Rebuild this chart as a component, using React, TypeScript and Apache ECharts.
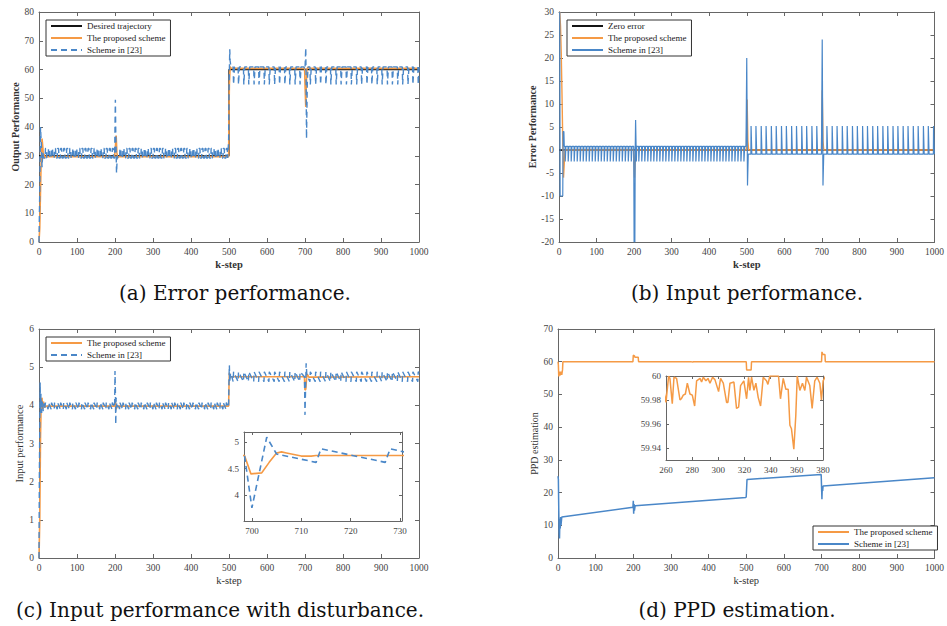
import React, { useEffect, useRef } from 'react';
import * as echarts from 'echarts';

type Pt = [number, number];

// ---------------- shared oscillation instants (k-step) ----------------
const osc1K = [16, 24, 32, 40, 48, 56, 64, 72, 80, 88, 96, 104, 112, 120, 128, 136, 144, 152, 160, 168, 176, 184, 192,
  212, 220, 228, 236, 244, 252, 260, 268, 276, 284, 292, 300, 308, 316, 324, 332, 340, 348, 356, 364, 372, 380, 388,
  396, 404, 412, 420, 428, 436, 444, 452, 460, 468, 476, 484, 492];
const osc2K = [511, 524, 538, 551, 565, 578, 592, 605, 619, 632, 646, 659, 673, 686, 713, 727, 740, 754, 767, 781,
  794, 808, 821, 835, 848, 862, 875, 889, 902, 916, 929, 943, 956, 970, 983, 997];

// ---------------- tick labels ----------------
const kTicks = [0, 100, 200, 300, 400, 500, 600, 700, 800, 900, 1000];
const aYTicks = [0, 10, 20, 30, 40, 50, 60, 70, 80];
const bYTicks = [-20, -15, -10, -5, 0, 5, 10, 15, 20, 25, 30];
const cYTicks = [0, 1, 2, 3, 4, 5, 6];
const dYTicks = [0, 10, 20, 30, 40, 50, 60, 70];
const ciXTicks = [700, 710, 720, 730];
const ciXRange = [698.4, 730.4];
const ciYTicks = [4, 4.5, 5];
const ciYRange = [3.5, 5.2];
const diXTicks = [260, 280, 300, 320, 340, 360, 380];
const diYTicks = [59.94, 59.96, 59.98, 60];
const diYRange = [59.93, 60];

// ---------------- (a) output performance ----------------
const aDesired: Pt[] = [[0, 30], [500, 30], [500, 60], [1000, 60]];
const aProposed: Pt[] = [[0, 0], [2, 5], [4, 18], [6, 30], [8, 36], [10, 33], [12, 29], [14, 30.5], [16, 29.5],
  [20, 29.7], [199, 29.7], [201, 33], [203, 37], [205, 31], [207, 29.2], [210, 29.7], [499, 29.7], [500, 45],
  [501, 55], [503, 61], [505, 60.5], [510, 60.4], [699, 60.4], [700, 55], [702, 47], [703, 53], [705, 60.2],
  [708, 60.8], [712, 60.4], [1000, 60.4]];
const aSchemeTransient: Pt[] = [[0, 0], [2, 18], [4, 40], [6, 34], [8, 26], [10, 31], [12, 29.5], [14, 29.2],
  [199, 29.2], [200, 40], [201, 49.5], [202, 38], [204, 24], [206, 30], [208, 29.2],
  [497, 29.2], [499, 35], [500, 52], [502, 67], [503, 63], [505, 60.9],
  [697, 60.9], [700, 60], [702, 67.5], [703, 55], [704, 36], [706, 55], [708, 60.9], [1000, 60.9]];
const aSchemeOsc1 = [29.2, 32.5];
const aSchemeOsc2 = [60.9, 54.8];

// ---------------- (b) error performance ----------------
const bZero: Pt[] = [[0, 0], [1000, 0]];
const bProposed: Pt[] = [[0, 30], [2, 30], [4, 27], [6, 21], [8, 12], [10, 2], [12, -6], [14, -3], [16, 0],
  [199, 0], [201, -6], [203, -2], [205, 0], [499, 0], [501, 11], [503, 2], [505, 0],
  [699, 0], [701, 13], [703, 2], [705, 0], [1000, 0]];
const bSchemeTransient: Pt[] = [[0, 30], [2, 30], [3, -10], [10, -10], [11, 4], [13, 4], [14, 0.8],
  [199, 0.8], [200, -20], [202, -20], [203, 0], [204, 6.5], [205, 6.5], [206, -2.5], [207, 0.8],
  [498, 0.8], [500, 20], [501, 20], [502, -7.7], [503, -7.7], [504, -0.9],
  [699, -0.9], [701, 24], [702, 24], [703, -7.7], [704, -7.7], [705, -0.9], [1000, -0.9]];
const bSchemeOsc1 = [0.8, -2.5];
const bSchemeOsc2 = [-0.9, 5.2];

// ---------------- (c) input performance with disturbance ----------------
const cProposed: Pt[] = [[0, 0], [2, 1], [4, 3.2], [6, 4.15], [8, 4.2], [10, 3.9], [12, 4.1], [14, 3.95],
  [18, 3.98], [199, 3.98], [201, 4.12], [203, 3.9], [206, 3.98], [499, 3.98], [500, 4.5], [501, 4.85],
  [503, 4.72], [505, 4.75], [698.5, 4.75], [699.8, 4.4], [702, 4.42], [703.5, 4.62], [705, 4.8], [706, 4.82],
  [707, 4.8], [710, 4.74], [712, 4.74], [713, 4.75], [1000, 4.75]];
const cSchemeTransient: Pt[] = [[0, 0], [1, 2.2], [3, 4.6], [4, 3.8], [5, 4.3], [7, 3.8], [9, 4.1], [11, 3.85],
  [13, 4.05], [15, 3.9], [199, 3.95], [200, 4.9], [201, 4.4], [202, 3.5], [203, 4.2], [205, 3.95], [207, 4.05],
  [499, 3.95], [500, 4.7], [501, 5.05], [502, 4.6], [504, 4.85], [506, 4.8],
  [698.5, 4.75], [700, 3.75], [701, 4.2], [703, 5.1], [705, 4.78], [710, 4.68], [1000, 4.85]];
const cSchemeOsc1 = [3.9, 4.07];
const cSchemeOsc2 = [4.62, 4.88];

// ---------------- (d) PPD estimation ----------------
const dProposed: Pt[] = [[0, 60], [1, 59], [2, 55.5], [4, 57], [6, 55.8], [8, 57], [10, 56], [12, 57.5], [13, 60],
  [199, 60], [200, 62], [203, 61.8], [204, 61.4], [213, 61.4], [214, 60], [258, 59.99], [382, 60],
  [500, 60], [501, 57.5], [513, 57.5], [514, 60], [700, 60], [701, 63], [702, 62.6], [704, 62.2], [709, 62.2],
  [710, 60], [1000, 60]];
const dProposedZoom: Pt[] = [[260, 59.978], [262, 60], [263, 59.998], [264.8, 59.977], [266.1, 59.999],
  [268.1, 59.998], [270.7, 59.98], [271.7, 59.981], [273.2, 59.984], [274.8, 59.985], [276.3, 59.994],
  [278.3, 59.985], [280.1, 59.984], [281.9, 59.975], [283.4, 59.996], [286, 59.998], [287.2, 59.995],
  [288.5, 59.999], [290.5, 59.996], [292.1, 59.998], [293.6, 59.994], [295.6, 59.999], [297.4, 59.997],
  [300.2, 59.987], [301.7, 59.998], [303.8, 59.994], [306.3, 59.978], [307.3, 59.978], [308.9, 59.994],
  [311.9, 59.995], [313.9, 59.973], [315.5, 59.974], [317, 59.992], [319.5, 59.996], [321.6, 59.981],
  [323.1, 59.999], [324.1, 59.988], [325.4, 59.999], [327.2, 59.988], [328.7, 59.994], [330.5, 59.982],
  [332.3, 59.975], [334.3, 59.999], [336.8, 59.996], [337.9, 59.993], [339.4, 60], [346, 60], [347.5, 59.981],
  [349.6, 59.998], [351.6, 59.989], [353.4, 59.989], [354.7, 59.959], [355.9, 59.956], [357.7, 59.939],
  [359.2, 59.967], [360.3, 60], [362.3, 59.988], [364.3, 59.994], [366.1, 59.988], [367.4, 59.999],
  [369.9, 59.992], [371.7, 59.973], [373.7, 59.996], [375.5, 59.999], [377.6, 59.994], [378.8, 59.98],
  [380.1, 59.996]];
const dScheme: Pt[] = [[0, 25], [1, 24], [2, 15], [3, 8], [4, 6], [5, 12], [6, 9], [7, 12.5], [8, 10], [10, 12.5],
  [199, 15.5], [200, 17.5], [201, 13.5], [202, 16.5], [203, 14.5], [205, 16], [499, 18.5], [500, 18.8],
  [502, 24], [699, 25.5], [700, 25.5], [701, 18], [702, 22], [703, 20.5], [704, 22], [1000, 24.5]];

// ---------------- texts ----------------
const aNames = ['Desired trajectory', 'The proposed scheme', 'Scheme in [23]'];
const bNames = ['Zero error', 'The proposed scheme', 'Scheme in [23]'];
const cNames = ['The proposed scheme', 'Scheme in [23]'];
const dNames = ['The proposed scheme', 'Scheme in [23]'];
const captions = ['(a) Error performance.', '(b) Input performance.', '(c) Input performance with disturbance.', '(d) PPD estimation.'];

// ---------------- style ----------------
const FONT = '"Liberation Serif", "Times New Roman", Times, serif';
const CAPTION_FONT = '"DejaVu Serif", "Liberation Serif", serif';
const AXC = '#666666';
const LBLC = '#444444';
const BLUE = '#4a87c8';
const ORANGE = '#f59a45';
const BLACK = '#141414';

function pulses(ks: number[], lv: number[], rise: number, hold: number): Pt[] {
  const out: Pt[] = [];
  ks.forEach((k) => {
    out.push([k, lv[0]], [k + rise, lv[1]], [k + rise + hold, lv[1]], [k + 2 * rise + hold, lv[0]]);
  });
  return out;
}
function saw(ks: number[], lv: number[]): Pt[] {
  const out: Pt[] = [];
  ks.forEach((k) => out.push([k, lv[0]], [k + 1, lv[1]]));
  return out;
}
function merge(...parts: Pt[][]): Pt[] {
  return ([] as Pt[]).concat(...parts).sort((p, q) => p[0] - q[0]);
}
const tidy = (v: number) => +v.toFixed(6);

interface AxCfg {
  min: number; max: number; interval?: number; fixed?: number; fs: number; tick: number;
  fmt?: (v: number) => string; hideMin?: boolean; hideMax?: boolean;
  name?: string; nameGap?: number; nameBold?: boolean; nameSize?: number; z?: number;
}

function axisSet(kind: 'x' | 'y', grid: number, c: AxCfg): any[] {
  const mk = () => {
    const o: any = {
      type: 'value', gridIndex: grid, min: c.min, max: c.max,
      splitLine: { show: false },
      axisLine: { show: true, onZero: false, lineStyle: { color: AXC, width: 1 } },
      axisTick: { show: true, inside: true, length: c.tick, lineStyle: { color: AXC, width: 1 } },
      z: c.z ?? 0,
    };
    if (c.interval != null) o.interval = c.interval;
    if (c.fixed != null) { o.minInterval = c.fixed; o.maxInterval = c.fixed; }
    return o;
  };
  const main = mk();
  main.position = kind === 'x' ? 'bottom' : 'left';
  main.axisLabel = { show: true, color: LBLC, fontSize: c.fs, fontFamily: FONT, margin: 5, formatter: c.fmt ?? ((v: number) => String(v)) };
  if (c.hideMin) main.axisLabel.showMinLabel = false;
  if (c.hideMax) main.axisLabel.showMaxLabel = false;
  if (c.name) {
    main.name = c.name;
    main.nameLocation = 'middle';
    main.nameGap = c.nameGap;
    main.nameTextStyle = { fontFamily: FONT, fontSize: c.nameSize, fontWeight: c.nameBold ? 'bold' : 'normal', color: '#333' };
  }
  const mirror = mk();
  mirror.position = kind === 'x' ? 'top' : 'right';
  mirror.axisLabel = { show: false };
  return [main, mirror];
}

function fromTicks(t: number[]) {
  return { min: t[0], max: t[t.length - 1], interval: tidy(t[1] - t[0]) };
}

function line(name: string, data: Pt[], color: string, width: number, grid: number, dashed: boolean, z = 2): any {
  return {
    type: 'line', name, data, xAxisIndex: 2 * grid, yAxisIndex: 2 * grid,
    symbol: 'none', showSymbol: false, silent: true, animation: false, clip: true, z,
    lineStyle: { color, width, type: dashed ? [6, 4] : 'solid' },
    itemStyle: { color }, emphasis: { disabled: true },
  };
}

function legendCfg(names: string[], left: number, top: number): any {
  return {
    show: true, orient: 'vertical', left, top, data: names,
    itemWidth: 31, itemHeight: 12, itemGap: 0, padding: [0, 5, 0, 4],
    backgroundColor: '#fff', borderColor: '#333', borderWidth: 1, borderRadius: 0,
    textStyle: { fontFamily: FONT, fontSize: 9, color: '#1a1a1a', lineHeight: 12 },
    itemStyle: { opacity: 0 },
    formatter: (n: string) => n.trim(), selectedMode: false, z: 10,
  };
}

const uniq = (names: string[], p: number) => names.map((n) => n + ' '.repeat(p));

export default function App() {
  const ref = useRef<HTMLDivElement>(null);
  useEffect(() => {
    if (!ref.current) return;
    const chart = echarts.init(ref.current, undefined, { renderer: 'svg' });

    const aS = merge(aSchemeTransient, pulses(osc1K, aSchemeOsc1, 1, 2.5), pulses(osc2K, aSchemeOsc2, 1, 1.5));
    const bS = merge(bSchemeTransient, pulses(osc1K, bSchemeOsc1, 0.5, 1.5), pulses(osc2K, bSchemeOsc2, 0.5, 1.5));
    const cS = merge(cSchemeTransient, saw(osc1K, cSchemeOsc1), saw(osc2K, cSchemeOsc2));
    const dP = merge(dProposed, dProposedZoom);

    const an = uniq(aNames, 0), bn = uniq(bNames, 1), cn = uniq(cNames, 2), dn = uniq(dNames, 3);
    const K = fromTicks(kTicks);

    const xAxis = [
      ...axisSet('x', 0, { ...K, fs: 9.5, tick: 4, name: 'k-step', nameGap: 17, nameBold: true, nameSize: 10.5 }),
      ...axisSet('x', 1, { ...K, fs: 9.5, tick: 4, name: 'k-step', nameGap: 17, nameBold: true, nameSize: 10.5 }),
      ...axisSet('x', 2, { ...K, fs: 9.5, tick: 4, name: 'k-step', nameGap: 17, nameSize: 10.5 }),
      ...axisSet('x', 3, { ...K, fs: 9.5, tick: 4, name: 'k-step', nameGap: 17, nameSize: 10.5 }),
      ...axisSet('x', 4, { min: ciXRange[0], max: ciXRange[1], fixed: tidy(ciXTicks[1] - ciXTicks[0]), fs: 9, tick: 3, hideMin: true, hideMax: true, z: 6 }),
      ...axisSet('x', 5, { ...fromTicks(diXTicks), fs: 9, tick: 3, z: 6 }),
    ];
    const yAxis = [
      ...axisSet('y', 0, { ...fromTicks(aYTicks), fs: 9.5, tick: 4, name: 'Output Performance', nameGap: 16, nameBold: true, nameSize: 10 }),
      ...axisSet('y', 1, { ...fromTicks(bYTicks), fs: 9.5, tick: 4, name: 'Error Performance', nameGap: 20, nameBold: true, nameSize: 10 }),
      ...axisSet('y', 2, { ...fromTicks(cYTicks), fs: 9.5, tick: 4, name: 'Input performance', nameGap: 11, nameSize: 10.5 }),
      ...axisSet('y', 3, { ...fromTicks(dYTicks), fs: 9.5, tick: 4, name: 'PPD estimation', nameGap: 15, nameSize: 10 }),
      ...axisSet('y', 4, { min: ciYRange[0], max: ciYRange[1], fixed: tidy(ciYTicks[1] - ciYTicks[0]), fs: 9, tick: 3, hideMin: true, hideMax: true, z: 6 }),
      ...axisSet('y', 5, {
        min: diYRange[0], max: diYRange[1], fixed: tidy(diYTicks[1] - diYTicks[0]), fs: 9, tick: 3, hideMin: true, z: 6,
        fmt: (v: number) => (Math.abs(v - 60) < 1e-9 ? '60' : v.toFixed(2)),
      }),
    ];

    const option: any = {
      animation: false,
      textStyle: { fontFamily: FONT },
      grid: [
        { left: 39, top: 12, width: 380, height: 230 },
        { left: 559, top: 12, width: 379, height: 230 },
        { left: 39, top: 329, width: 380, height: 229 },
        { left: 558, top: 329, width: 381, height: 229 },
        { left: 244, top: 432, width: 158, height: 89, show: true, backgroundColor: '#fff', borderWidth: 0, z: 5 },
        { left: 666, top: 376, width: 157, height: 84, show: true, backgroundColor: '#fff', borderWidth: 0, z: 5 },
      ],
      xAxis,
      yAxis,
      legend: [
        legendCfg(an, 46, 20),
        legendCfg(bn, 567, 20),
        legendCfg(cn, 46, 337),
        legendCfg(dn, 813, 526),
      ],
      series: [
        line(an[0], aDesired, BLACK, 1.3, 0, false),
        line(an[1], aProposed, ORANGE, 1.6, 0, false),
        line(an[2], aS, BLUE, 1.4, 0, true),
        line(bn[0], bZero, BLACK, 1.3, 1, false),
        line(bn[1], bProposed, ORANGE, 1.4, 1, false),
        line(bn[2], bS, BLUE, 1.2, 1, false),
        line(cn[0], cProposed, ORANGE, 1.6, 2, false),
        line(cn[1], cS, BLUE, 1.4, 2, true),
        line(dn[0], dP, ORANGE, 1.5, 3, false),
        line(dn[1], dScheme, BLUE, 1.5, 3, false),
        line('inset-c-proposed', cProposed, ORANGE, 1.6, 4, false, 7),
        line('inset-c-scheme', cS, BLUE, 1.6, 4, true, 7),
        line('inset-d-proposed', dP, ORANGE, 1.5, 5, false, 7),
      ],
      graphic: captions.map((t, i) => ({
        type: 'text',
        x: [235, 747, 220, 737][i],
        y: [293, 293, 610, 610][i],
        silent: true,
        style: { text: t, fontFamily: CAPTION_FONT, fontSize: 20, fill: '#111', textAlign: 'center', textVerticalAlign: 'middle', align: 'center', verticalAlign: 'middle' },
      })),
    };
    chart.setOption(option);
    return () => chart.dispose();
  }, []);
  return <div ref={ref} style={{ position: 'fixed', left: 0, top: 0, width: 947, height: 626, background: '#fff' }} />;
}
